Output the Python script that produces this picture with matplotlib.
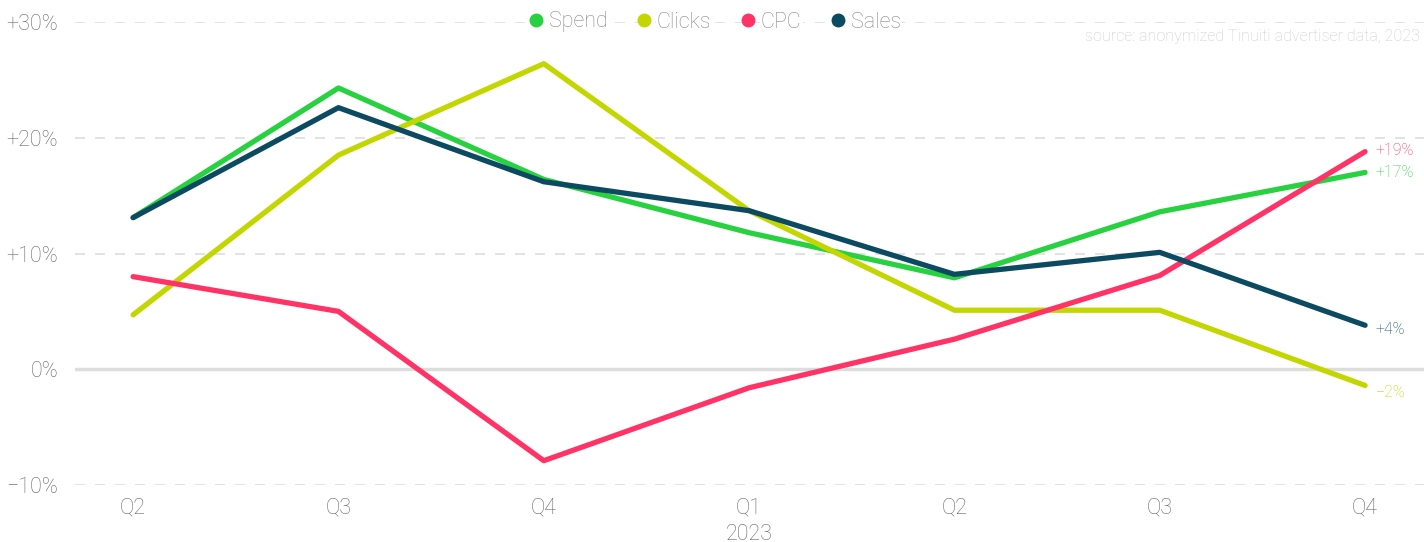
import matplotlib
matplotlib.use('Agg')
import matplotlib.pyplot as plt
from matplotlib.lines import Line2D

plt.rcParams['font.family'] = ['Roboto', 'DejaVu Sans']

quarters = ['Q2', 'Q3', 'Q4', 'Q1', 'Q2', 'Q3', 'Q4']
spend = [13.1, 24.3, 16.4, 11.8, 7.9, 13.6, 17.0]
clicks = [4.7, 18.5, 26.4, 13.7, 5.1, 5.1, -1.4]
cpc = [8.0, 5.0, -7.9, -1.6, 2.6, 8.1, 18.8]
sales = [13.1, 22.6, 16.2, 13.7, 8.2, 10.1, 3.8]
end_labels = ['+17%', '\u22122%', '+19%', '+4%']

series = [('Spend', spend, '#27d13f'),
          ('Clicks', clicks, '#c3d600'),
          ('CPC', cpc, '#ff3366'),
          ('Sales', sales, '#0b4a60')]
# small nudges so end labels don't collide
label_nudge = [0.0, -0.6, 0.1, -0.4]

fig = plt.figure(figsize=(14.24, 5.42), dpi=100)
ax = fig.add_axes([75 / 1424, 57 / 542, 1349 / 1424, 463 / 542])

x = list(range(len(quarters)))
ax.set_xlim(-0.283, 6.287)
ax.set_ylim(-10, 30)

# grid
for v in [-10, 10, 20, 30]:
    ax.axhline(v, color='#dddddd', lw=1.2, ls=(0, (6, 6)), zorder=0)
ax.axhline(0, color='#dddddd', lw=2.5, zorder=0)

for (name, vals, col), lab, dy in zip(series, end_labels, label_nudge):
    ax.plot(x, vals, color=col, lw=3.8, solid_capstyle='round',
            solid_joinstyle='round', clip_on=False, zorder=3)
    ax.text(6.05, vals[-1] + dy, lab, color=col, fontsize=11.5, va='center',
            ha='left', fontweight='light')

for s in ax.spines.values():
    s.set_visible(False)
ax.tick_params(length=0)
ax.set_yticks([-10, 0, 10, 20, 30])
ax.set_yticklabels(['\u221210%', '0%', '+10%', '+20%', '+30%'])
ax.set_xticks(x)
ax.set_xticklabels(quarters)
for t in ax.get_yticklabels() + ax.get_xticklabels():
    t.set_color('#666666')
    t.set_fontsize(15.5)
    t.set_fontweight('light')
ax.tick_params(axis='y', pad=12)
ax.tick_params(axis='x', pad=9)
ax.text(3, -14.25, '2023', ha='center', va='center', fontsize=15.5,
        color='#666666', fontweight='light')

handles = [Line2D([], [], ls='none', marker='o', ms=9, color=c) for _, _, c in series]
leg = fig.legend(handles, [n for n, _, _ in series], ncol=4, loc='center',
                 bbox_to_anchor=(0.5, 1 - 22 / 542), frameon=False, fontsize=15.5,
                 handletextpad=0.0, columnspacing=1.1, handlelength=1.2)
for t in leg.get_texts():
    t.set_color('#888888')
    t.set_fontweight('light')
    t.set_bbox(dict(facecolor='white', edgecolor='none', pad=1))

fig.text(1420 / 1424, 1 - 37 / 542, 'source: anonymized Tinuiti advertiser data, 2023',
         ha='right', va='center', fontsize=11.6, color='#cccccc', fontweight='light')

fig.savefig('out.png', dpi=100)
